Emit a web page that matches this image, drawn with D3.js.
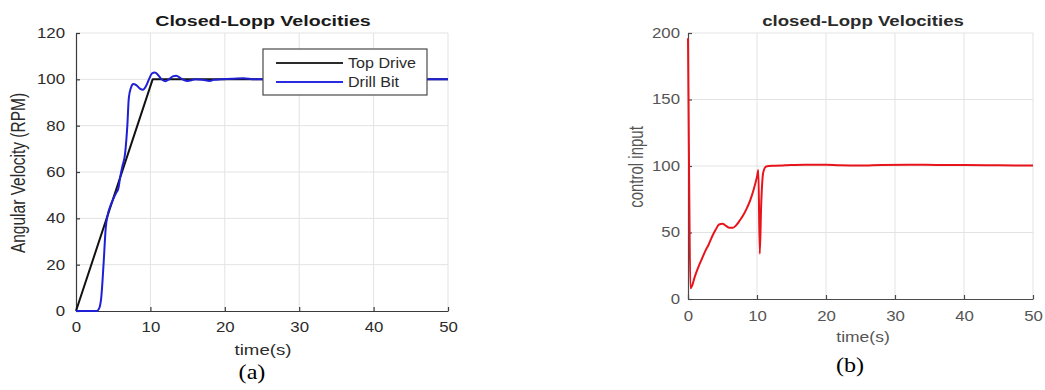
<!DOCTYPE html>
<html>
<head>
<meta charset="utf-8">
<script src="https://cdn.jsdelivr.net/npm/d3@7"></script>
<style>
  html, body { margin: 0; padding: 0; background: #fff; }
  svg { display: block; }
</style>
</head>
<body>
<svg id="fig" width="1045" height="390"></svg>
<script>
// ---- data: panel (a) closed-loop velocities ----
const topDriveT = [0, 10.3, 50];
const topDriveV = [0, 100, 100];

const drillBitT = [0, 1, 2, 2.8, 3.1, 3.4, 3.7, 4.0, 4.3, 4.7, 5.1, 5.4, 5.7, 5.9, 6.2, 6.6,
                   6.9, 7.1, 7.4, 7.7, 8.1, 8.6, 9.0, 9.4, 9.8, 10.2, 10.6, 11.0, 11.5, 12.0,
                   12.5, 13.0, 13.5, 14.0, 14.5, 15.0, 15.5, 16.0, 17.0, 18.0, 18.5, 19.5, 21,
                   22.5, 24, 26, 30, 35, 40, 45, 50];
const drillBitV = [0, 0, 0, 0, 1, 6, 20, 36, 42, 46, 49, 51, 53, 57, 62, 68,
                   80, 92, 96.5, 98, 97.5, 96, 95.5, 97, 100, 102.5, 103, 102, 100, 99.2,
                   100, 101.3, 101.6, 100.6, 99.7, 99.3, 99.6, 100, 99.8, 99.3, 99.8, 100, 100.2,
                   100.5, 100, 100, 100, 100, 100, 100, 100];

// ---- data: panel (b) control input ----
const controlT = [0, 0.15, 0.35, 0.6, 1, 1.5, 2, 2.5, 3, 3.5, 4, 4.5, 5, 5.5, 6, 6.5, 7, 7.5,
                  8, 8.5, 9, 9.5, 10, 10.2, 10.4, 10.6, 10.9, 11.3, 11.7, 12.5, 14, 17, 20,
                  22, 25, 28, 32, 36, 40, 45, 50];
const controlV = [196, 100, 8, 10, 17, 24, 30, 36, 41, 47, 52, 56, 56.5, 55, 53.5, 53.5, 55.5, 59,
                  63, 68, 74, 82, 92, 97, 34, 70, 95, 99.5, 100, 100.2, 100.5, 101, 101,
                  100.5, 100.3, 100.8, 101, 100.8, 100.7, 100.5, 100.3];

// ---- axis ticks and labels ----
const xTicks = [0, 10, 20, 30, 40, 50];
const yTicksA = [0, 20, 40, 60, 80, 100, 120];
const yTicksB = [0, 50, 100, 150, 200];
const legendLabels = ["Top Drive", "Drill Bit"];
const titleA = "Closed-Lopp Velocities";
const titleB = "closed-Lopp Velocities";
const xLabel = "time(s)";
const yLabelA = "Angular Velocity (RPM)";
const yLabelB = "control input";
const captionA = "(a)";
const captionB = "(b)";

const SANS = '"Liberation Sans", Arial, Helvetica, sans-serif';
const SERIF = '"Liberation Serif", "Times New Roman", serif';

const svg = d3.select("#fig");

// Place a text element at (x, y) with a horizontal stretch factor.
function placeText(g, str, x, y, opts) {
  const sx = opts.sx || 1;
  return g.append("text")
    .attr("transform", `translate(${x},${y}) scale(${sx},1)`)
    .attr("text-anchor", opts.anchor || "middle")
    .style("font-family", opts.family || SANS)
    .style("font-size", (opts.size || 14) + "px")
    .style("font-weight", opts.weight || "normal")
    .attr("fill", opts.fill || "#333")
    .text(str);
}

function drawPanel(cfg) {
  const g = svg.append("g");
  const x = d3.scaleLinear().domain([0, 50]).range([cfg.left, cfg.right]);
  const y = d3.scaleLinear().domain([0, cfg.yMax]).range([cfg.bottom, cfg.top]);

  // grid
  const grid = g.append("g").attr("stroke", "#e3e3e3").attr("stroke-width", 1);
  grid.selectAll("line.gx").data(xTicks.filter(d => d > 0)).join("line")
    .attr("x1", d => x(d)).attr("x2", d => x(d))
    .attr("y1", cfg.top).attr("y2", cfg.bottom);
  grid.selectAll("line.gy").data(cfg.yTicks.filter(d => d > 0)).join("line")
    .attr("x1", cfg.left).attr("x2", cfg.right)
    .attr("y1", d => y(d)).attr("y2", d => y(d));

  // axes with inward ticks
  const xa = g.append("g").attr("transform", `translate(0,${cfg.bottom})`)
    .call(d3.axisBottom(x).tickValues(xTicks).tickSizeInner(-4).tickSizeOuter(0).tickPadding(cfg.xPad));
  const ya = g.append("g").attr("transform", `translate(${cfg.left},0)`)
    .call(d3.axisLeft(y).tickValues(cfg.yTicks).tickSizeInner(-4).tickSizeOuter(0).tickPadding(cfg.yPad));
  [xa, ya].forEach(a => {
    a.select(".domain").attr("stroke", cfg.axisColor).attr("stroke-width", 1.2);
    a.selectAll(".tick line").attr("stroke", cfg.axisColor).attr("stroke-width", 1.2);
    a.selectAll(".tick text")
      .attr("fill", cfg.textColor)
      .style("font-size", "14px")
      .style("font-family", SANS);
  });
  // horizontal stretch of tick labels
  xa.selectAll(".tick text").each(function () {
    const t = d3.select(this);
    const yy = +t.attr("y");
    t.attr("y", 0).attr("transform", `translate(0,${yy}) scale(${cfg.tickSx},1)`);
  });
  ya.selectAll(".tick text").each(function () {
    const t = d3.select(this);
    const xx = +t.attr("x");
    t.attr("x", 0).attr("transform", `translate(${xx},0) scale(${cfg.tickSx},1)`);
  });

  // series
  cfg.series.forEach(s => {
    const pts = s.t.map((tv, i) => [tv, s.v[i]]);
    g.append("path")
      .datum(pts)
      .attr("fill", "none")
      .attr("stroke", s.color)
      .attr("stroke-width", s.width)
      .attr("stroke-linejoin", "round")
      .attr("d", d3.line().x(d => x(d[0])).y(d => y(d[1])).curve(s.curve));
  });

  // title, axis labels, caption
  placeText(g, cfg.title, cfg.titleX, cfg.titleY, { size: 14, weight: "bold", sx: cfg.titleSx, fill: cfg.titleColor });
  placeText(g, xLabel, cfg.xLabelX, cfg.xLabelY, { size: 14, sx: cfg.xLabelSx, fill: cfg.textColor });
  g.append("text")
    .attr("transform", `translate(${cfg.yLabelX},${cfg.yLabelY}) rotate(-90) scale(1,${cfg.yLabelSy})`)
    .attr("text-anchor", "middle")
    .style("font-family", SANS)
    .style("font-size", cfg.yLabelSize + "px")
    .attr("fill", cfg.textColor)
    .text(cfg.yLabel);
  placeText(g, cfg.caption, cfg.capX, cfg.capY, { size: 21, sx: 1.15, fill: "#000", family: SERIF });
  return { g, x, y };
}

// panel (a)
const pa = drawPanel({
  left: 76, right: 448, top: 33, bottom: 311, yMax: 120, yTicks: yTicksA,
  xPad: 11, yPad: 11, tickSx: 1.2,
  axisColor: "#3a3a3a", textColor: "#2b2b2b", titleColor: "#1a1a1a",
  title: titleA, titleX: 263, titleY: 26, titleSx: 1.4,
  xLabelX: 263, xLabelY: 355, xLabelSx: 1.33,
  yLabel: yLabelA, yLabelX: 25, yLabelY: 173, yLabelSize: 15.5, yLabelSy: 1.3,
  caption: captionA, capX: 252, capY: 379,
  series: [
    { t: topDriveT, v: topDriveV, color: "#111111", width: 2, curve: d3.curveLinear },
    { t: drillBitT, v: drillBitV, color: "#1f1fd6", width: 2, curve: d3.curveMonotoneX }
  ]
});

// legend for panel (a)
const lg = pa.g.append("g");
lg.append("rect").attr("x", 263).attr("y", 49).attr("width", 164).attr("height", 46)
  .attr("fill", "#fff").attr("stroke", "#4a4a4a").attr("stroke-width", 1.2);
const legendColors = ["#2a2a2a", "#2a2ae0"];
legendLabels.forEach((lab, i) => {
  const yy = 63 + i * 19;
  lg.append("line").attr("x1", 276).attr("x2", 343).attr("y1", yy).attr("y2", yy)
    .attr("stroke", legendColors[i]).attr("stroke-width", 2);
  placeText(lg, lab, 348, yy + 5, { size: 14, anchor: "start", sx: 1.15, fill: "#2b2b2b" });
});

// panel (b)
drawPanel({
  left: 688, right: 1033, top: 33, bottom: 299, yMax: 200, yTicks: yTicksB,
  xPad: 12, yPad: 8, tickSx: 1.2,
  axisColor: "#4a4a4a", textColor: "#555", titleColor: "#2a2a2a",
  title: titleB, titleX: 863, titleY: 26, titleSx: 1.33,
  xLabelX: 863, xLabelY: 342, xLabelSx: 1.25,
  yLabel: yLabelB, yLabelX: 643, yLabelY: 167, yLabelSize: 15, yLabelSy: 1.3,
  caption: captionB, capX: 850, capY: 372,
  series: [
    { t: controlT, v: controlV, color: "#e8141c", width: 2, curve: d3.curveMonotoneX }
  ]
});
</script>
</body>
</html>
